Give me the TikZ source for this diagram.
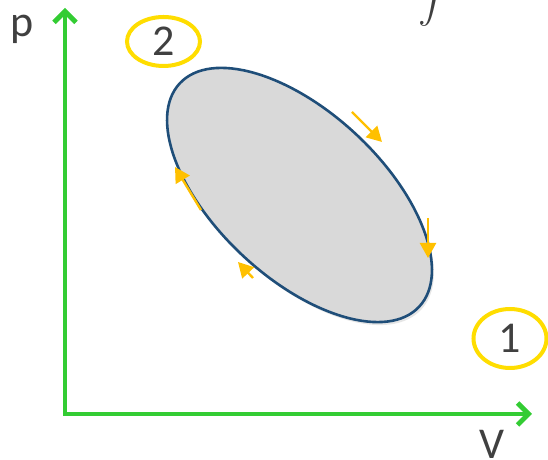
\documentclass[tikz,border=0pt]{standalone}
\usepackage{fontspec}
\setmainfont{Carlito}
\usetikzlibrary{shapes.geometric,arrows.meta,shadows}
\definecolor{axisgreen}{RGB}{51,204,51}
\definecolor{ringyellow}{RGB}{255,221,0}
\definecolor{tipyellow}{RGB}{255,192,0}
\definecolor{loopblue}{RGB}{31,78,121}
\definecolor{loopfill}{RGB}{217,217,217}
\definecolor{txtgrey}{RGB}{64,64,64}
\tikzstyle{axis} = [draw=axisgreen, line width=2.4pt, line join=miter, {Straight Barb[length=5.5pt,width=11pt]}-{Straight Barb[length=5.5pt,width=11pt]}]
\tikzstyle{lbl} = [text=txtgrey, font=\fontsize{22}{26}\selectfont, inner sep=0pt]
\tikzstyle{state} = [ellipse, draw=ringyellow, line width=2pt, lbl, minimum width=36.5pt]
\tikzstyle{proc} = [ellipse, draw=loopblue, fill=loopfill, line width=1.3pt, minimum width=163.7pt, minimum height=83pt, inner sep=0pt, drop shadow={opacity=0.2, shadow xshift=1pt, shadow yshift=-1.5pt}]
\tikzstyle{dir} = [draw=tipyellow, line width=1.2pt, -{Triangle[length=7.5pt,width=8pt]}]

\begin{document}
\begin{tikzpicture}[x=0.5pt, y=0.5pt]
        \useasboundingbox (0,0) rectangle (548,460);
        \clip (0,0) rectangle (548,460);

        \coordinate (o)    at (65,46);
        \coordinate (ytop) at (65,452);
        \coordinate (xend) at (532,46);
        \draw[axis] (ytop) -- (o) -- (xend);

        \node[proc, rotate=-43]               (loop) at (299.5,265) {};

        \node[lbl, anchor=base]               (plbl) at (22,423) {p};
        \node[lbl]                            (vlbl) at (492,16) {V};
        \node[state, minimum height=24.5pt]   (st2)  at (163.5,418.5) {2};
        \node[state, minimum height=29.5pt]   (st1)  at (510,121.5) {1};
        \node[lbl, anchor=south, scale=1.8]   (intg) at (436,433) {$\displaystyle\int$};

        \coordinate (a1s) at (352,348);  \coordinate (a1e) at (382,318);
        \coordinate (a2s) at (428,242);  \coordinate (a2e) at (428,202);
        \coordinate (a3s) at (201,250);  \coordinate (a3e) at (175,293);
        \coordinate (a4s) at (253,182);  \coordinate (a4e) at (238,198);
        \path[dir] (a1s) -- (a1e);
        \path[dir] (a2s) -- (a2e);
        \path[dir] (a3s) -- (a3e);
        \path[dir] (a4s) -- (a4e);
\end{tikzpicture}
\end{document}
